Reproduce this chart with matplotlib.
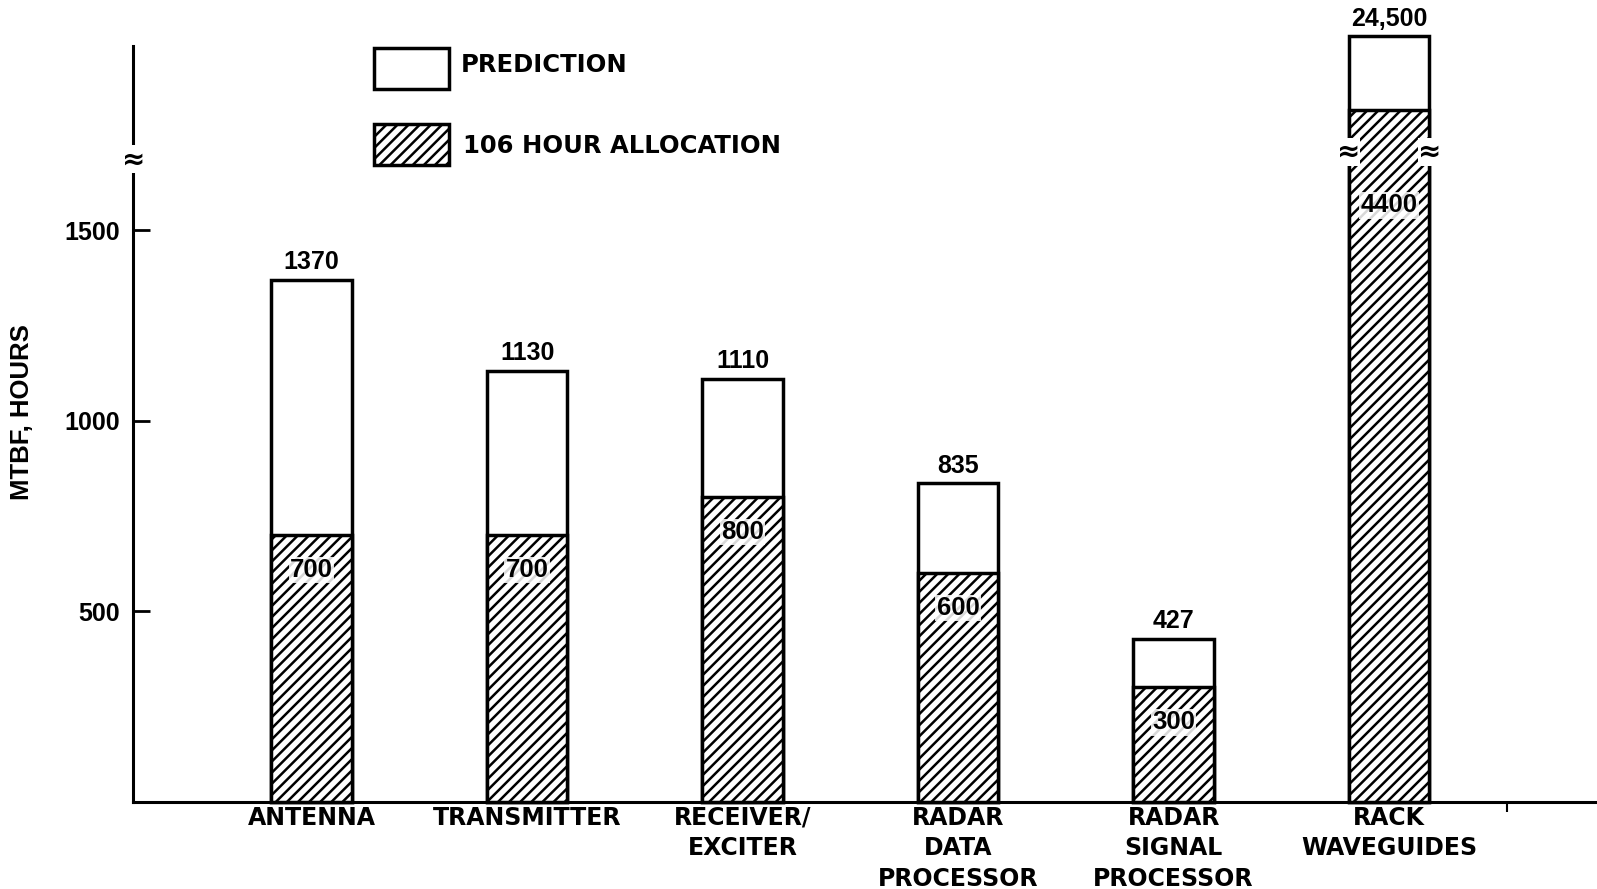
import numpy as np
import matplotlib
matplotlib.use("Agg")
from matplotlib import pyplot as plt
from matplotlib.patches import Rectangle

plt.rcParams['font.family'] = ['Liberation Sans', 'DejaVu Sans']
plt.rcParams['font.weight'] = 'bold'
plt.rcParams['hatch.linewidth'] = 1.8

# data
categories = ['ANTENNA', 'TRANSMITTER', 'RECEIVER/\nEXCITER', 'RADAR\nDATA\nPROCESSOR',
              'RADAR\nSIGNAL\nPROCESSOR', 'RACK\nWAVEGUIDES']
prediction = [1370, 1130, 1110, 835, 427, 24500]
allocation = [700, 700, 800, 600, 300, 4400]
pred_labels = ['1370', '1130', '1110', '835', '427', '24,500']
alloc_labels = ['700', '700', '800', '600', '300', '4400']
yticks = [500, 1000, 1500]

# broken y axis: values above the break are squeezed
BREAK = 1690
brk_in = [0, BREAK, 4400, 24500]
brk_out = [0, BREAK, 1815, 2008]

def disp(v):
    return np.interp(v, brk_in, brk_out)

WIDE = ['DejaVu Sans']  # lettering in the original is wide

fig = plt.figure(figsize=(15.97, 8.89), dpi=100)
ax = fig.add_axes([133.4 / 1597, 87.4 / 889, 1 - 133.4 / 1597, (843 - 87.4) / 889])

x = np.arange(len(categories))
w = 0.374
ax.bar(x, disp(np.array(prediction)), w, color='white', edgecolor='black', lw=2.5, clip_on=False, zorder=2)
ax.bar(x, disp(np.array(allocation)), w, color='white', edgecolor='black', hatch='///', lw=2.5,
       clip_on=False, zorder=3)

for xi, p, a, pl, al in zip(x, prediction, allocation, pred_labels, alloc_labels):
    ax.annotate(pl, (xi, disp(p)), xytext=(0, 4), textcoords='offset points',
                ha='center', va='bottom', fontsize=18, annotation_clip=False)
    ya = disp(a) - 92 if a < BREAK else BREAK - 125
    ax.text(xi, ya, al, ha='center', va='center', fontsize=18.5, zorder=5,
            bbox=dict(boxstyle='square,pad=0.05', fc='white', ec='none', alpha=0.85))
    if p > BREAK:
        for side in (-w / 2, w / 2):
            ax.text(xi + side, BREAK + 15, '≈', ha='center', va='center', fontsize=20, zorder=6,
                    family='DejaVu Sans', bbox=dict(boxstyle='square,pad=0.0', fc='white', ec='none'))

ax.set_xlim(-0.827, 5.965)
ax.set_ylim(0, 1983)
ax.set_xticks(x)
ax.set_xticklabels(categories, fontsize=17, linespacing=1.35, family=WIDE)
ax.tick_params(axis='x', length=0, pad=3)
# stray tick on the baseline, right of the last bar
ax.set_xticks([5.547], minor=True)
ax.tick_params(axis='x', which='minor', direction='out', length=7, width=1.5)
ax.set_yticks(yticks)
ax.set_yticklabels([str(t) for t in yticks], fontsize=18)
ax.tick_params(axis='y', direction='in', length=12, width=2, pad=10)
ax.set_ylabel('MTBF, HOURS', fontsize=18.5, fontweight='bold')
ax.yaxis.set_label_coords(-0.068, 0.516)
for s in ('top', 'right'):
    ax.spines[s].set_visible(False)
ax.spines['left'].set_linewidth(2.2)
ax.spines['bottom'].set_linewidth(2.2)

# break mark on the y axis
ax.text(0, 0.85, '≈', transform=ax.transAxes, ha='center', va='center', fontsize=20,
        family='DejaVu Sans', bbox=dict(boxstyle='square,pad=0.0', fc='white', ec='none'), clip_on=False)

# legend drawn by hand
fig.add_artist(Rectangle((374 / 1597, 1 - 89 / 889), 75 / 1597, 41 / 889, transform=fig.transFigure,
                         fc='white', ec='black', lw=2.5))
fig.add_artist(Rectangle((374 / 1597, 1 - 165 / 889), 75 / 1597, 41 / 889, transform=fig.transFigure,
                         fc='white', ec='black', lw=2.5, hatch='///'))
fig.text(461 / 1597, 1 - 65 / 889, 'PREDICTION', fontsize=17.5, va='center', family=WIDE)
fig.text(463 / 1597, 1 - 146 / 889, '106 HOUR ALLOCATION', fontsize=17.5, va='center', family=WIDE)

fig.savefig('out.png', dpi=100)
